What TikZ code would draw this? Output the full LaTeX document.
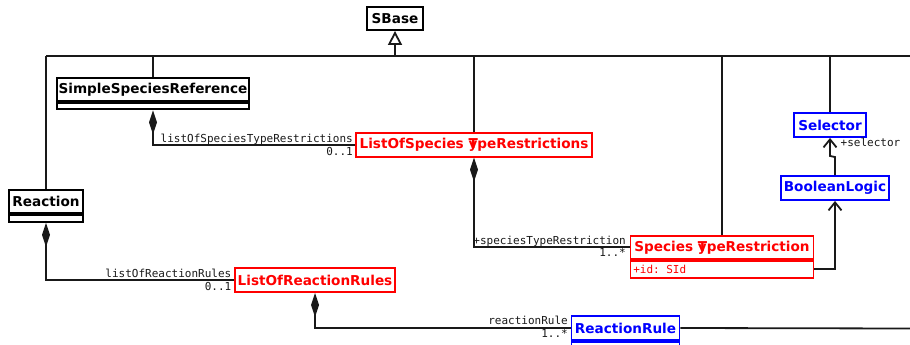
\documentclass[tikz,border=0pt]{standalone}
\usepackage{fontspec}
\setmainfont{DejaVu Sans}
\setmonofont{DejaVu Sans Mono}
\usetikzlibrary{arrows.meta}
\definecolor{umlred}{RGB}{255,0,0}
\definecolor{umlblue}{RGB}{0,0,255}
\definecolor{ink}{RGB}{25,25,25}
\tikzset{
  cls/.style={draw, line width=1.9pt, inner sep=0pt, font=\fontsize{13.6}{15}\selectfont\bfseries},
  conn/.style={draw=ink, line width=1.8pt},
  lbl/.style={inner sep=0pt, text=ink, font=\fontsize{11}{13}\selectfont\ttfamily},
  comp/.style={{Diamond[length=24pt,width=8pt]}-},
  nav/.style={-{Straight Barb[length=8pt,width=13pt]}},
  gen/.style={-{Triangle[open,length=14pt,width=14pt,fill=white]}}
}
\begin{document}
\begin{tikzpicture}[x=1pt,y=-1pt]
\useasboundingbox (0,0) rectangle (910,345);
\clip (0,0) rectangle (910,345);

% classes
\node[cls, minimum width=56, minimum height=23] (sbase) at (395,18.5) {SBase};
\node[cls, minimum width=192, minimum height=23] (ssr) at (153,89.5) {SimpleSpeciesReference};
\node[cls, minimum width=192, minimum height=6.5, anchor=north] (ssrb) at (ssr.south) {};
\node[cls, umlred, minimum width=236, minimum height=23.4] (lostr) at (474,145) {ListOfSpecies \rlap{T}ypeRestrictions};
\node[cls, umlred, minimum width=183, minimum height=23.3] (str) at (722,247.3) {Species \rlap{T}ypeRestriction};
\node[cls, umlred, minimum width=183, minimum height=16.7, anchor=north] (strb) at (str.south) {};
\node[lbl, text=umlred, anchor=west] (strid) at ([xshift=3.5pt]strb.west) {+id: SId};
\node[cls, umlblue, minimum width=108, minimum height=24] (bl) at (835,188) {BooleanLogic};
\node[cls, umlblue, minimum width=72, minimum height=24] (sel) at (830,125) {Selector};
\node[cls, minimum width=74, minimum height=23.3] (rxn) at (46,201.7) {Reaction};
\node[cls, minimum width=74, minimum height=6.7, anchor=north] (rxnb) at (rxn.south) {};
\node[cls, umlred, minimum width=160, minimum height=23.7] (lorr) at (315,280.2) {ListOfReactionRules};
\node[cls, umlblue, minimum width=108, minimum height=24] (rr) at (625.5,328) {ReactionRule};
\node[cls, umlblue, minimum width=108, minimum height=24, anchor=north] (rrb) at (rr.south) {};

% generalization bus
\coordinate (busL) at (46,56);
\coordinate (busR) at (910,56);
\coordinate (hub) at (395,56);
\draw[conn] (busL) -- (busR);
\draw[conn, gen] (hub) -- (sbase.south);
\draw[conn] (rxn.north) -- (rxn.north |- hub);
\draw[conn] (ssr.north) -- (ssr.north |- hub);
\draw[conn] (lostr.north) -- (lostr.north |- hub);
\draw[conn] (str.north) -- (str.north |- hub);
\draw[conn] (sel.north) -- (sel.north |- hub);

% compositions
\draw[conn, comp] (ssrb.south) |- (lostr.west);
\node[lbl, anchor=base east] at (353,142) {listOfSpeciesTypeRestrictions};
\node[lbl, anchor=base east] at (353,155) {0..1};

\draw[conn, comp] (lostr.south) |- (str.west);
\node[lbl, anchor=base east] at (626,244) {+speciesTypeRestriction};
\node[lbl, anchor=base east] at (626,256.5) {1..*};

\draw[conn, comp] (rxnb.south) |- (lorr.west);
\node[lbl, anchor=base east] at (231.5,277) {listOfReactionRules};
\node[lbl, anchor=base east] at (231.5,290) {0..1};

\draw[conn, comp] (lorr.south) |- (rr.west);
\node[lbl, anchor=base east] at (568,324.5) {reactionRule};
\node[lbl, anchor=base east] at (568,337) {1..*};

\coordinate (rrEnd) at (910,328.5);
\draw[conn] (rr.east) -- (rrEnd);

% navigable associations
\draw[conn, nav] (strb.east) -| (bl.south);
\draw[conn, nav] (bl.north) -- ++(0,-18) -- ([yshift=-18pt]sel.south) -- (sel.south);
\node[lbl, anchor=base west] at (840.5,146.5) {+selector};
\end{tikzpicture}
\end{document}
